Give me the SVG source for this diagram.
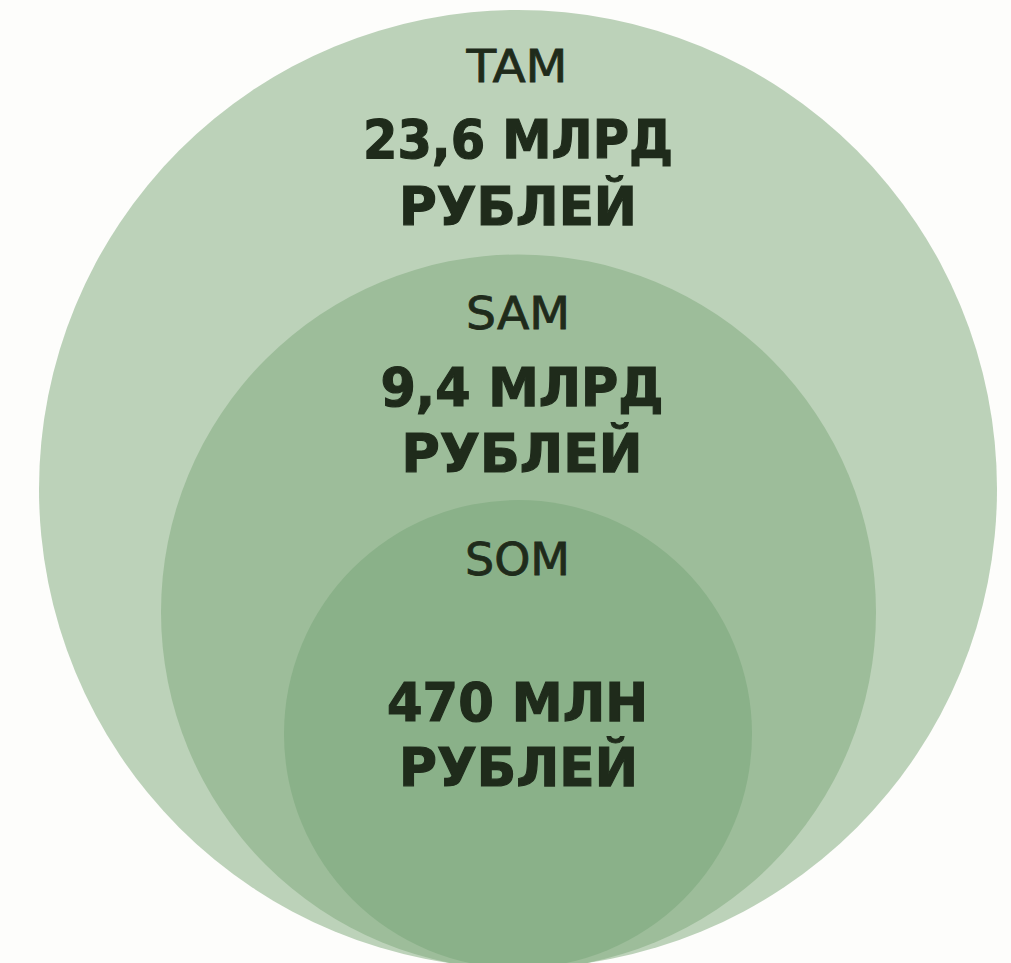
<svg xmlns="http://www.w3.org/2000/svg" width="1011" height="963" viewBox="0 0 1011 963">
<style>
.lbl{font-family:"DejaVu Sans","Liberation Sans",sans-serif;font-size:45px;font-weight:500;fill:#1f2b1b;stroke:#1f2b1b;stroke-width:0.8;text-anchor:middle}
.val{font-family:"DejaVu Sans","Liberation Sans",sans-serif;font-size:53px;font-weight:bold;fill:#1f2b1b;stroke:#1f2b1b;stroke-width:1.2;text-anchor:middle}
</style>
<rect width="1011" height="963" fill="#fdfdfb"/>
<g id="tam">
<circle cx="518" cy="489" r="479" fill="#bcd2b9"/>
<text class="lbl" x="517" y="82" textLength="101" lengthAdjust="spacingAndGlyphs">TAM</text>
<text class="val" x="518" y="158" textLength="310" lengthAdjust="spacingAndGlyphs">23,6 МЛРД</text>
<text class="val" x="518" y="225" textLength="238" lengthAdjust="spacingAndGlyphs">РУБЛЕЙ</text>
</g>
<g id="sam">
<circle cx="518.5" cy="612" r="357.5" fill="#9dbd9a"/>
<text class="lbl" x="518" y="329" textLength="104" lengthAdjust="spacingAndGlyphs">SAM</text>
<text class="val" x="522" y="406" textLength="283" lengthAdjust="spacingAndGlyphs">9,4 МЛРД</text>
<text class="val" x="522" y="472" textLength="241" lengthAdjust="spacingAndGlyphs">РУБЛЕЙ</text>
</g>
<g id="som">
<circle cx="518" cy="734" r="234" fill="#8ab189"/>
<text class="lbl" x="517.5" y="575" textLength="105" lengthAdjust="spacingAndGlyphs">SOM</text>
<text class="val" x="517.5" y="721" textLength="261" lengthAdjust="spacingAndGlyphs">470 МЛН</text>
<text class="val" x="518.5" y="786" textLength="239" lengthAdjust="spacingAndGlyphs">РУБЛЕЙ</text>
</g>
<g id="connectors"/>
</svg>
